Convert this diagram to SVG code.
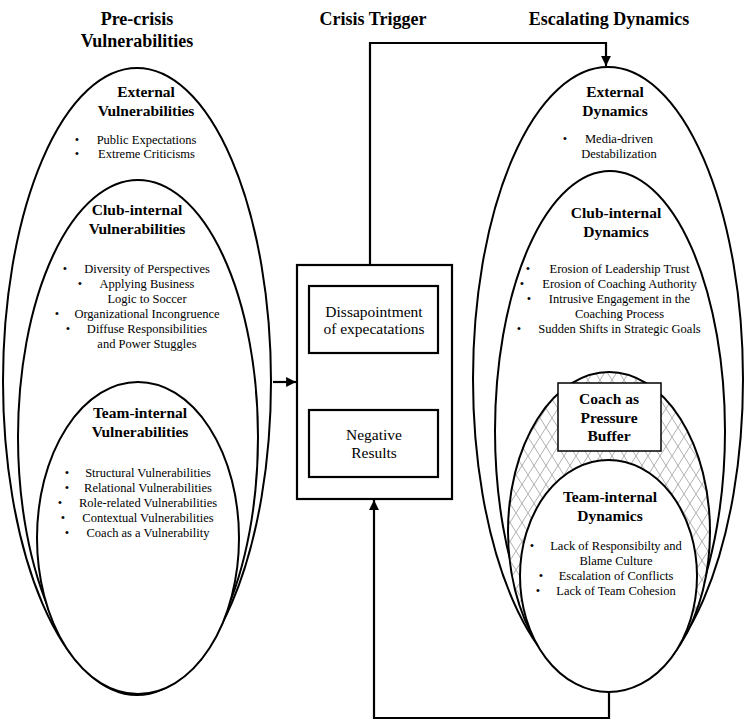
<svg xmlns="http://www.w3.org/2000/svg" width="748" height="722" viewBox="0 0 748 722">
<defs>
<style>
.ell{fill:#fff;stroke:#000;stroke-width:2}
.box{fill:#fff;stroke:#000;stroke-width:2.2}
.ttl{font-family:"Liberation Serif",serif;font-weight:bold;font-size:18px;text-anchor:middle}
.hd{font-family:"Liberation Serif",serif;font-weight:bold;font-size:15.5px;text-anchor:middle}
.bt{font-family:"Liberation Serif",serif;font-size:12.5px;text-anchor:middle}
.bl{font-family:"Liberation Serif",serif;font-size:12.5px;text-anchor:middle}
.mid{font-family:"Liberation Serif",serif;font-size:15.5px;text-anchor:middle}
.con{fill:none;stroke:#000;stroke-width:2.2}
</style>
<pattern id="hatch" width="12" height="19" patternUnits="userSpaceOnUse">
<path d="M0,0 L12,19 M12,0 L0,19" stroke="#a8a8a8" stroke-width="0.9" fill="none"/>
</pattern>
<marker id="arr" viewBox="0 0 10 10" refX="10" refY="5" markerWidth="4.5" markerHeight="4.5" orient="auto" markerUnits="strokeWidth">
<path d="M0,0 L10,5 L0,10 Z" fill="#000"/>
</marker>
</defs>

<g id="titles">
<text class="ttl" x="137" y="25">Pre-crisis</text>
<text class="ttl" x="137" y="47">Vulnerabilities</text>
<text class="ttl" x="373" y="25">Crisis Trigger</text>
<text class="ttl" x="609" y="25">Escalating Dynamics</text>
</g>

<g id="connectors">
<path class="con" d="M370,265 V43 H606 V66" marker-end="url(#arr)"/>
<path class="con" d="M273,382 H296" marker-end="url(#arr)"/>
<path class="con" d="M374,410 V354" marker-end="url(#arr)"/>
<path class="con" d="M609,692 V718 H374 V500" marker-end="url(#arr)"/>
</g>

<g id="external-vulnerabilities">
<ellipse class="ell" cx="137" cy="381.5" rx="134" ry="313.5"/>
<text class="hd" x="146" y="97">External</text>
<text class="hd" x="146" y="116">Vulnerabilities</text>
<text class="bl" x="77" y="144">•</text><text class="bt" x="146.5" y="144">Public Expectations</text>
<text class="bl" x="77" y="158">•</text><text class="bt" x="146.5" y="158">Extreme Criticisms</text>
</g>

<g id="club-internal-vulnerabilities">
<ellipse class="ell" cx="138" cy="437" rx="120" ry="257"/>
<text class="hd" x="137" y="215">Club-internal</text>
<text class="hd" x="137" y="234">Vulnerabilities</text>
<text class="bl" x="65" y="273">•</text><text class="bt" x="147" y="273">Diversity of Perspectives</text>
<text class="bl" x="80" y="288">•</text><text class="bt" x="147" y="288">Applying Business</text>
<text class="bt" x="147" y="303">Logic to Soccer</text>
<text class="bl" x="57" y="318">•</text><text class="bt" x="147" y="318">Organizational Incongruence</text>
<text class="bl" x="68" y="333">•</text><text class="bt" x="147" y="333">Diffuse Responsibilities</text>
<text class="bt" x="147" y="348">and Power Stuggles</text>
</g>

<g id="team-internal-vulnerabilities">
<ellipse class="ell" cx="138" cy="538" rx="101" ry="156"/>
<text class="hd" x="140" y="418">Team-internal</text>
<text class="hd" x="140" y="437">Vulnerabilities</text>
<text class="bl" x="67" y="477">•</text><text class="bt" x="148" y="477">Structural Vulnerabilities</text>
<text class="bl" x="67" y="492">•</text><text class="bt" x="148" y="492">Relational Vulnerabilities</text>
<text class="bl" x="60" y="507">•</text><text class="bt" x="148" y="507">Role-related Vulnerabilities</text>
<text class="bl" x="63" y="522">•</text><text class="bt" x="148" y="522">Contextual Vulnerabilities</text>
<text class="bl" x="67" y="537">•</text><text class="bt" x="148" y="537">Coach as a Vulnerability</text>
</g>

<g id="crisis-trigger">
<rect class="box" x="297" y="265" width="155" height="234"/>
</g>

<g id="dissapointment">
<rect class="box" x="309" y="286" width="129" height="67"/>
<text class="mid" x="374" y="317">Dissapointment</text>
<text class="mid" x="374" y="334">of expecatations</text>
</g>

<g id="negative-results">
<rect class="box" x="309" y="410" width="129" height="67"/>
<text class="mid" x="374" y="440">Negative</text>
<text class="mid" x="374" y="458">Results</text>
</g>

<g id="external-dynamics">
<ellipse class="ell" cx="608" cy="379" rx="135" ry="312"/>
<text class="hd" x="615" y="97">External</text>
<text class="hd" x="615" y="116">Dynamics</text>
<text class="bl" x="565" y="143">•</text><text class="bt" x="619" y="143">Media-driven</text>
<text class="bt" x="619" y="158">Destabilization</text>
</g>

<g id="club-internal-dynamics">
<ellipse class="ell" cx="610" cy="431" rx="115" ry="260"/>
<text class="hd" x="616" y="218">Club-internal</text>
<text class="hd" x="616" y="237">Dynamics</text>
<text class="bl" x="528" y="273">•</text><text class="bt" x="619.5" y="273">Erosion of Leadership Trust</text>
<text class="bl" x="522" y="288">•</text><text class="bt" x="619.5" y="288">Erosion of Coaching Authority</text>
<text class="bl" x="529" y="303">•</text><text class="bt" x="619.5" y="303">Intrusive Engagement in the</text>
<text class="bt" x="619.5" y="318">Coaching Process</text>
<text class="bl" x="519" y="333">•</text><text class="bt" x="619.5" y="333">Sudden Shifts in Strategic Goals</text>
</g>

<g id="coach-buffer-zone">
<ellipse cx="609" cy="531.5" rx="101" ry="159.5" fill="#fff" stroke="none"/>
<ellipse cx="609" cy="531.5" rx="101" ry="159.5" fill="url(#hatch)" stroke="#000" stroke-width="2"/>
</g>

<g id="coach-as-pressure-buffer">
<rect x="558" y="383" width="103" height="68" fill="#fff" stroke="#000" stroke-width="1.5"/>
<text class="hd" x="609" y="404">Coach as</text>
<text class="hd" x="609" y="423">Pressure</text>
<text class="hd" x="609" y="441">Buffer</text>
</g>

<g id="team-internal-dynamics">
<ellipse class="ell" cx="608.5" cy="576" rx="88.5" ry="116"/>
<text class="hd" x="610" y="502">Team-internal</text>
<text class="hd" x="610" y="521">Dynamics</text>
<text class="bl" x="532" y="550">•</text><text class="bt" x="616" y="550">Lack of Responsibilty and</text>
<text class="bt" x="616" y="565">Blame Culture</text>
<text class="bl" x="541" y="580">•</text><text class="bt" x="616" y="580">Escalation of Conflicts</text>
<text class="bl" x="538" y="595">•</text><text class="bt" x="616" y="595">Lack of Team Cohesion</text>
</g>
</svg>
